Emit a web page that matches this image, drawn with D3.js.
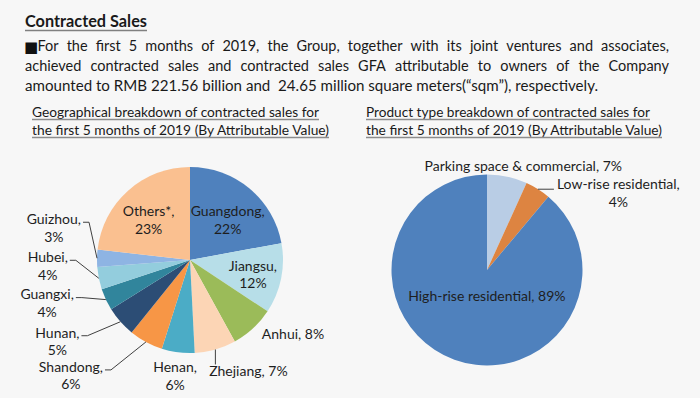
<!DOCTYPE html>
<html>
<head>
<meta charset="utf-8">
<script src="https://cdn.jsdelivr.net/npm/d3@7"></script>
<style>
  body { margin: 0; background: #f7f7f7; }
  svg { display: block; font-family: Lato, "Open Sans", sans-serif; }
</style>
</head>
<body>
<div id="chart"></div>
<script>
// ---- data ----
const titleText = "Contracted Sales";
const bulletMark = "■";
const bodyLines = [
    "For the first 5 months of 2019, the Group, together with its joint ventures and associates,",
    "achieved contracted sales and contracted sales GFA attributable to owners of the Company",
    "amounted to RMB 221.56 billion and  24.65 million square meters(“sqm”), respectively."
];
const geoTitle = ["Geographical breakdown of contracted sales for", "the first 5 months of 2019 (By Attributable Value)"];
const productTitle = ["Product type breakdown of contracted sales for", "the first 5 months of 2019 (By Attributable Value)"];

const geoNames = ["Guangdong", "Jiangsu", "Anhui", "Zhejiang", "Henan", "Shandong", "Hunan", "Guangxi", "Hubei", "Guizhou", "Others*"];
const geoValues = [22.1, 12.2, 7.7, 7.2, 5.7, 5.9, 5.3, 3.8, 3.9, 3.0, 23.2];
const geoColors = ["#4f81bd", "#b7dee8", "#9bbb59", "#fcd5b5", "#4bacc6", "#f79646", "#2c4d75", "#31859c", "#93cddd", "#8eb4e3", "#fac090"];

const productNames = ["Parking space & commercial", "Low-rise residential", "High-rise residential"];
const productValues = [6.8, 4.3, 88.9];
const productColors = ["#b9cde5", "#dd8441", "#4f81bd"];

// label placement (relative to slice centroid / outer edge)
const geoLabelLayout = [
    { at: "in", k: 0.6, dx: 2, dy: 3, align: "middle", wrap: true },
    { at: "in", k: 0.69, dx: 0, dy: 2, align: "middle", wrap: true },
    { at: "edge", dx: 40, dy: 6, align: "middle", wrap: false },
    { at: "edge", dx: 33, dy: 22, align: "middle", wrap: false, leader: "down" },
    { at: "edge", dx: -3, dy: 15, align: "middle", wrap: true },
    { at: "edge", dx: -43, dy: 25, align: "end", wrap: true, leader: "elbow" },
    { at: "edge", dx: -41, dy: 11, align: "end", wrap: true, leader: "elbow" },
    { at: "edge", dx: -32, dy: -5, align: "end", wrap: true, leader: "elbow" },
    { at: "edge", dx: -31, dy: -21, align: "end", wrap: true, leader: "elbow" },
    { at: "edge", dx: -16, dy: -39, align: "end", wrap: true, leader: "elbow" },
    { at: "in", k: 0.62, dx: -3, dy: 3, align: "middle", wrap: true }
];
const productLabelLayout = [
    { at: "edge", dx: 16, dy: -11, align: "middle", wrap: false },
    { at: "edge", dx: 19, dy: -5, align: "start", wrap: true, leader: "right" },
    { at: "in", k: 0.28, dx: 9, dy: 1, align: "middle", wrap: false }
];

const width = 700, height = 398;
const textColor = "#1a1a1a";
const lineH = 17.5;

const svg = d3.select("#chart")
    .append("svg")
    .attr("width", width)
    .attr("height", height);

svg.append("rect")
    .attr("width", width)
    .attr("height", height)
    .attr("fill", "#f7f7f7");

// ---- heading ----
svg.append("text")
    .attr("x", 25)
    .attr("y", 27)
    .attr("font-size", 17.5)
    .attr("font-weight", "bold")
    .attr("fill", textColor)
    .attr("textLength", 122)
    .attr("lengthAdjust", "spacingAndGlyphs")
    .text(titleText);

svg.append("line")
    .attr("x1", 25).attr("x2", 147)
    .attr("y1", 30.5).attr("y2", 30.5)
    .attr("stroke", "#808080")
    .attr("stroke-width", 1.5);

// ---- paragraph, justified except last line ----
const bodyY = [51, 71, 91];
const bodyRight = 669;
const bodySize = 14.5;

svg.append("text")
    .attr("x", 24)
    .attr("y", 51.5)
    .attr("font-size", 15)
    .attr("font-family", "DejaVu Sans")
    .attr("fill", "#111")
    .text(bulletMark);

bodyLines.forEach((line, i) => {
    const left = i === 0 ? 37.5 : 25;

    if (i < bodyLines.length - 1) {
        const words = line.split(" ");
        const nodes = words.map(w => svg.append("text")
            .attr("y", bodyY[i])
            .attr("font-size", bodySize)
            .attr("fill", textColor)
            .text(w));
        const widths = nodes.map(n => n.node().getComputedTextLength());
        const gap = (bodyRight - left - d3.sum(widths)) / (words.length - 1);
        let x = left;
        nodes.forEach((n, j) => {
            n.attr("x", x);
            x += widths[j] + gap;
        });
    } else {
        svg.append("text")
            .attr("x", left)
            .attr("y", bodyY[i])
            .attr("font-size", bodySize)
            .attr("fill", textColor)
            .style("white-space", "pre")
            .attr("textLength", 573)
            .attr("lengthAdjust", "spacingAndGlyphs")
            .text(line);
    }
});

// ---- chart subtitles ----
function drawSubtitle(lines, x, widths) {
    const ys = [117, 135];
    lines.forEach((line, i) => {
        svg.append("text")
            .attr("x", x)
            .attr("y", ys[i])
            .attr("font-size", 13.5)
            .attr("fill", textColor)
            .attr("textLength", widths[i])
            .attr("lengthAdjust", "spacingAndGlyphs")
            .text(line);
        svg.append("line")
            .attr("x1", x).attr("x2", x + widths[i])
            .attr("y1", ys[i] + 2.5).attr("y2", ys[i] + 2.5)
            .attr("stroke", "#8c8c8c")
            .attr("stroke-width", 1.5);
    });
}
drawSubtitle(geoTitle, 32, [287, 297]);
drawSubtitle(productTitle, 366, [284, 296]);

// ---- pies ----
function drawPie(names, values, colors, layout, cx, cy, r) {
    const arcs = d3.pie().sort(null).value(d => d)(values);
    const arc = d3.arc().innerRadius(0).outerRadius(r);

    const g = svg.append("g")
        .attr("transform", `translate(${cx}, ${cy})`);

    g.selectAll(".slice")
        .data(arcs)
        .join("path")
        .attr("class", "slice")
        .attr("d", arc)
        .attr("fill", (d, i) => colors[i]);

    arcs.forEach((d, i) => {
        const L = layout[i];
        const mid = (d.startAngle + d.endAngle) / 2;
        const ex = Math.sin(mid) * r, ey = -Math.cos(mid) * r;
        const rad = L.at === "in" ? r * L.k : r;
        const bx = Math.sin(mid) * rad, by = -Math.cos(mid) * rad;

        const pct = Math.round(d.value) + "%";
        const lines = L.wrap ? [names[i] + ",", pct] : [names[i] + ", " + pct];
        const ax = bx + L.dx;
        const ay = by + L.dy - (L.at === "in" ? (lines.length - 1) * lineH / 2 : 0);

        const t = g.append("text")
            .attr("text-anchor", "middle")
            .attr("font-size", 14)
            .attr("fill", "#1e1e1e");
        const spans = lines.map((s, j) => t.append("tspan")
            .attr("y", ay + j * lineH)
            .attr("dy", "0.35em")
            .text(s));
        const wMax = d3.max(spans, s => s.node().getComputedTextLength());
        const tx = L.align === "end" ? ax - wMax / 2 : L.align === "start" ? ax + wMax / 2 : ax;
        spans.forEach(s => s.attr("x", tx));

        let pts = null;
        if (L.leader === "elbow") pts = [[ex, ey], [ax + 8, ay + 3], [ax + 2, ay + 3]];
        else if (L.leader === "right") pts = [[ex, ey], [ax - 3, ey]];
        else if (L.leader === "down") pts = [[ex, ey], [ex, ay - 7]];
        if (pts) {
            g.append("path")
                .attr("d", d3.line()(pts))
                .attr("fill", "none")
                .attr("stroke", "#404040")
                .attr("stroke-width", 1);
        }
    });
}

drawPie(geoNames, geoValues, geoColors, geoLabelLayout, 190, 260, 93);
drawPie(productNames, productValues, productColors, productLabelLayout, 487, 270, 95.5);
</script>
</body>
</html>
